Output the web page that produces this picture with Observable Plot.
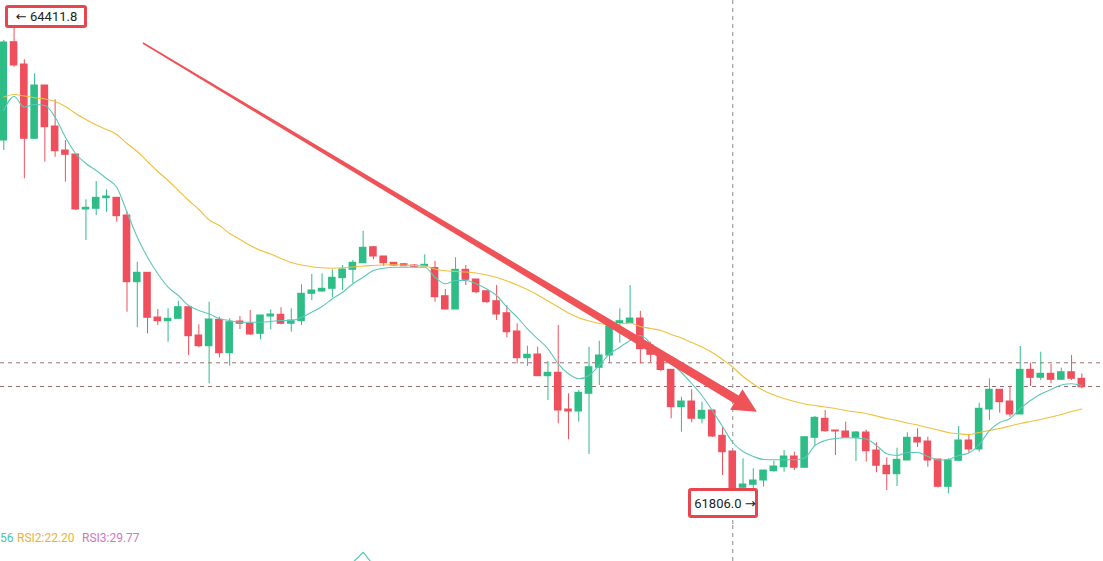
<!DOCTYPE html>
<html><head><meta charset="utf-8">
<script src="https://cdn.jsdelivr.net/npm/d3@7"></script>
<script src="https://cdn.jsdelivr.net/npm/@observablehq/plot@0.6"></script>
<style>
html,body{margin:0;padding:0;background:#fff;}
#wrap{position:relative;width:1103px;height:561px;overflow:hidden;font-family:Roboto,"Noto Sans",sans-serif;}
#wrap svg{display:block;}
.lbl{position:absolute;box-sizing:border-box;border:3px solid #e8464e;border-radius:3px;background:#fff;color:#222;font-size:13px;display:flex;align-items:center;white-space:nowrap;font-family:Roboto,"DejaVu Sans",sans-serif;}
.rsi{position:absolute;top:531px;font-size:12px;white-space:nowrap;}
</style></head><body><div id="wrap"></div>
<script>
// ---- candle data (BTC) ----
const open = [63745.6,64273.8,64153.9,63754.7,64041.1,63820.8,63691.9,63670.4,63374.9,63378.6,
63435.6,63437.7,63342.6,62984.3,63034.8,62794.6,62774.8,62787.6,62850.0,62697.9,
62640.4,62782.3,62602.8,62773.1,62760.8,62707.0,62800.0,62809.1,62760.8,62774.8,
62922.0,62934.3,62948.8,63005.8,63050.9,63086.4,63172.3,63122.4,63088.5,63081.0,
63074.0,63070.2,63060.6,62909.1,62837.6,63050.9,62998.8,62935.9,62882.2,62817.7,
62719.4,62576.0,62595.8,62479.2,62497.5,62300.3,62289.6,62384.7,62524.4,62590.5,
62764.0,62764.0,62789.2,62644.2,62595.8,62513.6,62312.7,62343.3,62250.4,62295.0,
62159.0,62074.7,61879.6,61895.8,61918.9,61968.8,61990.3,62047.8,61987.1,62148.3,
62250.4,62187.5,62182.1,62148.3,62176.8,62080.0,61997.9,61952.7,62026.3,62148.3,
62128.4,62031.7,61885.0,62024.7,62133.8,62085.4,62300.3,62406.2,62343.3,62273.5,
62513.6,62470.6,62492.1,62459.9,62500.7,62465.3];
const high = [64282.9,64411.8,64179.2,64104.0,64041.1,63964.3,63745.6,63670.4,63427.0,63525.3,
63480.7,63440.0,63360.4,63091.7,63034.8,62837.6,62841.4,62882.2,62850.0,62755.4,
62876.8,62796.2,62787.6,62800.0,62832.2,62805.4,62836.0,62846.7,62841.4,62970.3,
63025.7,63029.4,63050.9,63074.0,63100.9,63258.3,63176.1,63122.4,63088.5,63084.8,
63079.4,63131.5,63096.6,62945.1,63115.4,63074.0,62998.8,62935.9,62966.6,62859.1,
62760.8,62640.4,62635.1,62558.2,62751.6,62384.7,62402.4,62635.1,62667.3,62769.4,
62841.4,62966.6,62827.9,62661.9,62595.8,62513.6,62366.4,62406.2,62339.5,62295.0,
62205.2,62074.7,62035.4,61981.7,61972.6,62022.5,62080.0,62070.9,62151.5,62262.7,
62295.0,62187.5,62232.1,62182.1,62189.1,62121.4,62040.8,62092.4,62175.1,62196.6,
62151.5,62031.7,62035.4,62209.0,62166.0,62334.2,62465.3,62406.2,62423.9,62638.8,
62549.1,62608.2,62542.1,62522.2,62590.5,62492.1];
const low = [63691.9,64139.4,63539.8,63754.7,63629.0,63655.9,63521.6,63369.5,63208.3,63342.6,
63360.4,63306.7,62823.1,62739.3,62707.0,62751.6,62661.9,62787.6,62590.5,62631.8,
62438.4,62578.1,62533.0,62730.1,62697.9,62674.8,62728.5,62755.4,62715.6,62751.6,
62886.0,62930.6,62900.5,62939.7,62975.7,63086.4,63104.6,63068.6,63068.6,63067.0,
63063.3,63068.6,62876.8,62836.0,62837.6,62966.6,62922.0,62871.5,62778.5,62685.5,
62545.9,62531.4,62479.2,62348.7,62223.5,62137.5,62232.1,62058.5,62429.3,62549.1,
62656.5,62764.0,62545.9,62552.8,62502.9,62250.4,62178.4,62228.9,62223.5,62149.9,
61945.7,61806.0,61854.4,61865.1,61882.9,61963.5,61963.5,61972.6,61987.1,62106.9,
62178.4,62053.2,62148.3,62020.9,62017.2,61960.2,61865.1,61886.6,62026.3,62096.2,
61990.3,61879.6,61847.4,62024.7,62065.5,62070.9,62241.2,62280.4,62259.0,62273.5,
62423.9,62456.1,62438.4,62456.1,62456.1,62411.5];
const close = [64272.1,64148.6,63754.7,64041.1,63817.1,63688.1,63668.8,63374.9,63384.0,63437.7,
63444.7,63338.9,62984.3,63034.8,62793.0,62774.8,62787.6,62850.0,62694.2,62640.4,
62783.9,62602.8,62769.4,62760.8,62703.3,62805.4,62810.7,62760.8,62778.5,62922.0,
62939.7,62948.8,63007.9,63052.5,63088.5,63169.1,63122.4,63086.4,63074.0,63070.2,
63067.0,63077.8,62903.7,62837.6,63050.9,62997.2,62930.6,62876.8,62810.7,62715.6,
62576.0,62594.2,62479.2,62497.5,62295.0,62289.6,62390.0,62527.6,62590.5,62746.3,
62774.8,62789.2,62624.3,62594.2,62512.6,62312.7,62343.3,62250.4,62293.3,62155.3,
62070.9,61870.5,61897.4,61918.9,61972.6,61994.1,62047.8,61987.1,62151.5,62255.7,
62183.7,62182.1,62148.3,62176.8,62076.3,61997.9,61952.7,62030.1,62148.3,62123.0,
62026.3,61885.0,62026.3,62133.8,62085.4,62304.1,62406.2,62339.5,62273.5,62513.6,
62470.6,62492.1,62459.9,62500.7,62465.3,62420.1];
// moving averages as drawn (MA7 teal, MA25 yellow)
const ma7 = [63906.8,63982.0,63924.5,63939.0,63933.7,63870.8,63763.3,63675.8,63622.0,63584.4,
63541.4,63494.7,63360.4,63226.1,63118.6,63029.4,62957.4,62912.8,62859.1,62832.2,
62814.5,62787.6,62778.5,62769.4,62769.4,62769.4,62773.1,62778.5,62778.5,62796.2,
62823.1,62853.7,62895.1,62930.6,62975.7,63011.1,63047.1,63059.5,63064.9,63064.9,
63064.9,63064.9,63011.1,62975.7,62993.4,62993.4,62975.7,62948.8,62912.8,62850.0,
62796.2,62733.9,62680.2,62626.5,62545.9,62492.1,62465.3,62483.0,62536.7,62599.6,
62635.1,62671.0,62697.9,62654.9,62579.7,62547.5,62499.1,62440.0,62375.5,62295.0,
62209.0,62123.0,62074.7,62047.8,62031.7,62030.1,62030.1,62030.1,62039.7,62106.9,
62133.8,62144.5,62148.3,62147.2,62141.8,62106.9,62062.3,62053.2,62069.3,62069.3,
62047.8,62029.0,62031.7,62053.2,62066.6,62112.3,62187.5,62230.5,62252.0,62305.7,
62348.7,62383.6,62407.8,62431.9,62438.4,62429.3];
const ma25 = [63979.3,63992.8,63984.7,63975.0,63968.6,63955.1,63928.3,63890.7,63858.4,63828.9,
63804.7,63777.8,63729.5,63686.5,63632.8,63579.1,63530.7,63477.0,63423.2,63374.9,
63318.5,63288.9,63245.9,63213.7,63181.5,63154.6,63135.8,63111.6,63090.1,63076.7,
63067.6,63061.6,63059.5,63061.6,63065.9,63071.3,63074.0,63076.7,63077.8,63075.6,
63074.0,63071.3,63055.2,63046.1,63041.8,63039.1,63033.7,63023.0,63009.5,62990.7,
62969.2,62945.1,62915.5,62883.3,62851.0,62818.8,62793.0,62775.8,62762.4,62757.0,
62759.7,62765.1,62746.3,62735.5,62724.8,62703.3,62684.5,62660.3,62636.1,62606.6,
62569.0,62528.7,62477.6,62437.3,62402.4,62378.2,62359.4,62343.3,62329.9,62321.8,
62313.8,62305.7,62295.0,62286.9,62278.8,62265.4,62252.0,62241.2,62227.8,62217.0,
62203.6,62190.2,62176.8,62169.8,62166.0,62176.8,62187.5,62198.2,62211.7,62225.1,
62235.9,62246.6,62260.0,62273.5,62289.6,62303.0];
// price lines, crosshair, extreme labels
const levels = [62551.2, 62423.9];
const crossIdx = 71;
const hiIdx = 1, hiPrice = 64411.8, hiText = "← 64411.8";
const loIdx = 71, loPrice = 61806.0, loText = "61806.0 →";
// trend arrow (candle index, price)
const arrowFrom = {i: 13.6, p: 64266.8};
const arrowTo = {i: 73.4, p: 62285.3};
// RSI pane (visible part only)
const rsiIdx = [34, 35, 36];
const rsiVal = [59, 70.3, 56];
const rsiLabels = [
  {text: "56", color: "#4fc3b0", left: 0},
  {text: "RSI2:22.20", color: "#e6b23a", left: 17},
  {text: "RSI3:29.77", color: "#cf78bf", left: 82}
];

const GREEN = "#2ebd87", RED = "#ef4f5c";
const candles = open.map((o, i) => ({i, open: o, high: high[i], low: low[i], close: close[i]}));
const up = candles.filter(d => d.close >= d.open);
const down = candles.filter(d => d.close < d.open);
const maData = ma7.map((v, i) => ({i, ma7: v, ma25: ma25[i]}));
const xDomain = [-0.3214, 107.11];

const main = Plot.plot({
  width: 1103, height: 525, margin: 0,
  x: {domain: xDomain, axis: null},
  y: {domain: [61677.1, 64497.8], axis: null},
  marks: [
    Plot.ruleY(levels, {stroke: "#9a6f6f", strokeDasharray: "4,4", strokeWidth: 1}),
    Plot.ruleX([crossIdx], {stroke: "#8d8d8d", strokeDasharray: "4,4", strokeWidth: 1}),
    Plot.ruleX(up, {x: "i", y1: "low", y2: "high", stroke: GREEN, strokeWidth: 1}),
    Plot.ruleX(down, {x: "i", y1: "low", y2: "high", stroke: RED, strokeWidth: 1}),
    Plot.rect(up, {x1: d => d.i - 0.37, x2: d => d.i + 0.37, y1: "open", y2: "close", fill: GREEN, insetTop: -0.5, insetBottom: -0.5}),
    Plot.rect(down, {x1: d => d.i - 0.37, x2: d => d.i + 0.37, y1: "open", y2: "close", fill: RED, insetTop: -0.5, insetBottom: -0.5}),
    Plot.line(maData, {x: "i", y: "ma25", stroke: "#efc03c", strokeWidth: 1.1, curve: "monotone-x"}),
    Plot.line(maData, {x: "i", y: "ma7", stroke: "#5cc8b8", strokeWidth: 1.1, curve: "monotone-x"})
  ]
});

const rsiPane = Plot.plot({
  width: 1103, height: 36, margin: 0,
  x: {domain: xDomain, axis: null},
  y: {domain: [60, 100], axis: null},
  marks: [
    Plot.ruleX([crossIdx], {stroke: "#8d8d8d", strokeDasharray: "4,4", strokeWidth: 1}),
    Plot.line(rsiIdx.map((i, k) => ({i, v: rsiVal[k]})), {x: "i", y: "v", stroke: "#5cc8b8", strokeWidth: 1.2})
  ]
});

const wrap = document.getElementById("wrap");
wrap.appendChild(main);
wrap.appendChild(rsiPane);

const X = v => main.scale("x").apply(v), Y = v => main.scale("y").apply(v);

// tapered trend arrow drawn through the plot's scales
{
  const x0 = X(arrowFrom.i), y0 = Y(arrowFrom.p), x1 = X(arrowTo.i), y1 = Y(arrowTo.p);
  const len = Math.hypot(x1 - x0, y1 - y0), ux = (x1 - x0) / len, uy = (y1 - y0) / len;
  const nx = -uy, ny = ux;
  const headLen = 24, headHalf = 12, w0 = 1.5, w1 = 9;
  const bx = x1 - ux * headLen, by = y1 - uy * headLen;
  const pts = [
    [x0 + nx * w0 / 2, y0 + ny * w0 / 2],
    [bx + nx * w1 / 2, by + ny * w1 / 2],
    [bx + nx * headHalf, by + ny * headHalf],
    [x1, y1],
    [bx - nx * headHalf, by - ny * headHalf],
    [bx - nx * w1 / 2, by - ny * w1 / 2],
    [x0 - nx * w0 / 2, y0 - ny * w0 / 2]
  ];
  const path = document.createElementNS("http://www.w3.org/2000/svg", "path");
  path.setAttribute("d", "M" + pts.map(p => p.join(",")).join("L") + "Z");
  path.setAttribute("fill", "#ef5358");
  main.appendChild(path);
}

// extreme price labels
function addLabel(text, left, top, w, h, pad) {
  const d = document.createElement("div");
  d.className = "lbl";
  d.style.left = left + "px"; d.style.top = top + "px";
  d.style.width = w + "px"; d.style.height = h + "px";
  d.style.paddingLeft = pad + "px";
  d.textContent = text;
  wrap.appendChild(d);
}
addLabel(hiText, X(hiIdx) - 8.7, Y(hiPrice) - 11, 82, 23, 8);
addLabel(loText, X(loIdx) - 44, Y(loPrice) - 13, 70, 30, 3);

// RSI legend
for (const r of rsiLabels) {
  const s = document.createElement("div");
  s.className = "rsi";
  s.style.left = r.left + "px";
  s.style.color = r.color;
  s.textContent = r.text;
  wrap.appendChild(s);
}
</script></body></html>
